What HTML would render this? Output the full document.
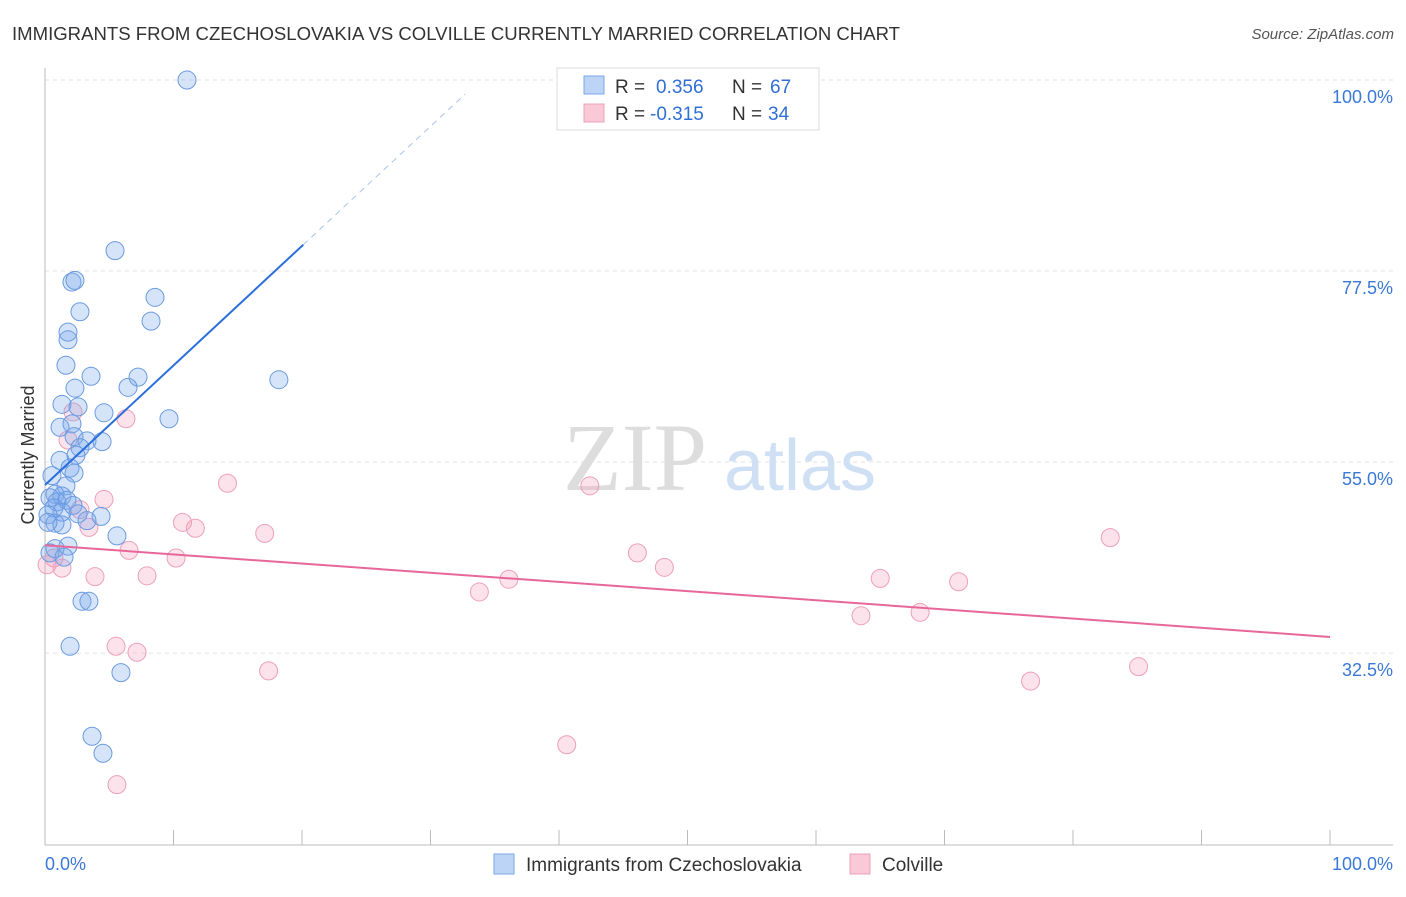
<!DOCTYPE html>
<html><head><meta charset="utf-8"><style>
body{margin:0;background:#fff;font-family:"Liberation Sans",sans-serif;}
</style></head><body>
<svg width="1406" height="892" xmlns="http://www.w3.org/2000/svg" font-family="Liberation Sans, sans-serif">
<text x="12" y="40" font-size="18.5" fill="#333" textLength="888" lengthAdjust="spacingAndGlyphs">IMMIGRANTS FROM CZECHOSLOVAKIA VS COLVILLE CURRENTLY MARRIED CORRELATION CHART</text>
<text x="1394" y="39" font-size="15" fill="#555" text-anchor="end" font-style="italic">Source: ZipAtlas.com</text>
<g id="grid"></g>
<text x="635" y="490" font-size="96" fill="#ddd" font-family="Liberation Serif, serif" text-anchor="middle">ZIP</text>
<text x="800" y="490" font-size="72" fill="#cfe0f5" text-anchor="middle">atlas</text>
<g id="marks"></g>
<text x="34" y="455" font-size="18" fill="#333" text-anchor="middle" transform="rotate(-90 34 455)">Currently Married</text>
<g>
<rect x="557" y="68" width="262" height="62" fill="#fff" stroke="#ddd"/>
<rect x="584" y="76" width="20" height="18" fill="#bcd4f5" stroke="#7aa7e6"/>
<rect x="584" y="104" width="20" height="18" fill="#f9c9d7" stroke="#eea0b8"/>
<text x="615" y="93" font-size="19" fill="#333">R =</text>
<text x="656" y="93" font-size="19" fill="#2f6fd6">0.356</text>
<text x="732" y="93" font-size="19" fill="#333">N =</text>
<text x="770" y="93" font-size="19" fill="#2f6fd6">67</text>
<text x="615" y="120" font-size="19" fill="#333">R =</text>
<text x="650" y="120" font-size="19" fill="#2f6fd6">-0.315</text>
<text x="732" y="120" font-size="19" fill="#333">N =</text>
<text x="768" y="120" font-size="19" fill="#2f6fd6">34</text>
</g>
<g>
<rect x="494" y="854" width="20" height="20" fill="#bcd4f5" stroke="#7aa7e6"/>
<text x="526" y="871" font-size="19" fill="#333">Immigrants from Czechoslovakia</text>
<rect x="850" y="854" width="20" height="20" fill="#f9c9d7" stroke="#eea0b8"/>
<text x="882" y="871" font-size="19" fill="#333">Colville</text>
</g>
<text x="45" y="870" font-size="18" fill="#3a78d8">0.0%</text>
<text x="1393" y="870" font-size="18" fill="#3a78d8" text-anchor="end">100.0%</text>
</svg>
<script>
const blueX=[11.05,5.45,2.1,2.33,8.56,2.72,8.25,1.79,1.79,1.63,3.58,7.24,18.2,6.46,2.33,1.32,2.57,4.59,9.65,1.17,2.1,2.26,3.27,4.44,2.72,2.41,1.17,1.95,2.26,0.54,1.63,0.78,1.32,0.39,0.93,1.71,2.18,0.7,1.32,0.23,2.57,4.36,3.27,0.78,1.32,0.23,5.6,1.79,0.78,0.39,1.48,2.88,3.42,1.95,5.91,3.66,4.51];
const blueY=[100,79.9,76.2,76.4,74.4,72.7,71.6,70.3,69.4,66.4,65.1,65.0,64.7,63.8,63.7,61.8,61.5,60.8,60.1,59.1,59.5,58.0,57.5,57.4,56.7,55.8,55.2,54.3,53.7,53.4,52.2,51.2,51.0,50.8,50.3,50.5,49.9,49.6,49.1,48.8,48.9,48.6,48.1,47.8,47.6,47.9,46.3,45.1,44.8,44.3,43.8,38.6,38.6,33.3,30.2,22.7,20.7];
const pinkX=[6.3,2.18,1.79,2.72,4.59,14.2,10.7,11.7,3.42,17.1,6.54,10.2,0.7,0.16,1.32,3.89,7.94,42.4,46.1,48.2,36.1,33.8,5.53,7.16,17.4,40.6,5.6,63.5,65.0,68.1,71.1,82.9,76.7,85.1];
const pinkY=[60.1,60.9,57.6,49.4,50.6,52.5,47.9,47.2,47.3,46.6,44.6,43.7,43.7,42.9,42.5,41.5,41.6,52.2,44.3,42.6,41.2,39.7,33.3,32.6,30.4,21.7,17.0,36.9,41.3,37.3,40.9,46.1,29.2,30.9];
const blueLine=[52.3,80.6,20.1,32.7];
const pinkLine=[45.2,34.4];
const yTicks=[100,77.5,55,32.5];
const yTickLabels=["100.0%","77.5%","55.0%","32.5%"];
const xTicks=[0,10,20,30,40,50,60,70,80,90,100];
const NS="http://www.w3.org/2000/svg";
const sx=v=>45+v*12.85, sy=v=>80+(100-v)*8.49;
function mk(t,a,p){const e=document.createElementNS(NS,t);for(const k in a)e.setAttribute(k,a[k]);p.appendChild(e);return e;}
const g=document.getElementById('grid'), m=document.getElementById('marks');
yTicks.forEach((t,i)=>{
 const l=mk('line',{x1:45,x2:1393,y1:sy(t),y2:sy(t),stroke:'#e2e2e2','stroke-dasharray':'4,4'},g);
 
 
 const tx=mk('text',{x:1393,y:sy(t)+23,'font-size':18,fill:'#3a78d8','text-anchor':'end'},g);
 tx.textContent=yTickLabels[i];
 
 
});
const ax=mk('line',{x1:45,x2:45,y1:68,y2:845,stroke:'#bbb'},g);


const bx=mk('line',{x1:45,x2:1393,y1:845,y2:845,stroke:'#bbb'},g);


xTicks.forEach(t=>{const l=mk('line',{x1:sx(t),x2:sx(t),y1:830,y2:845,stroke:'#bbb'},g);
 
 });
pinkX.forEach((x,i)=>{const c=mk('circle',{cx:sx(x),cy:sy(pinkY[i]),r:9,fill:'rgba(244,160,186,0.3)',stroke:'#eea0b8','stroke-width':1},m);
 
 });
blueX.forEach((x,i)=>{const c=mk('circle',{cx:sx(x),cy:sy(blueY[i]),r:9,fill:'rgba(120,165,235,0.3)',stroke:'#6a9be0','stroke-width':1},m);
 
 });
const slope=(blueLine[1]-blueLine[0])/blueLine[2];
const l1=mk('line',{x1:sx(0),y1:sy(blueLine[0]),x2:sx(blueLine[2]),y2:sy(blueLine[1]),stroke:'#2a6fdb','stroke-width':2},m);


const l2=mk('line',{x1:sx(blueLine[2]),y1:sy(blueLine[1]),x2:sx(blueLine[3]),y2:sy(blueLine[0]+slope*blueLine[3]),stroke:'#a8c4ee','stroke-width':1,'stroke-dasharray':'6,5'},m);


const l3=mk('line',{x1:sx(0),y1:sy(pinkLine[0]),x2:sx(100),y2:sy(pinkLine[1]),stroke:'#e8679a','stroke-width':2},m);


</script>
</body></html>
